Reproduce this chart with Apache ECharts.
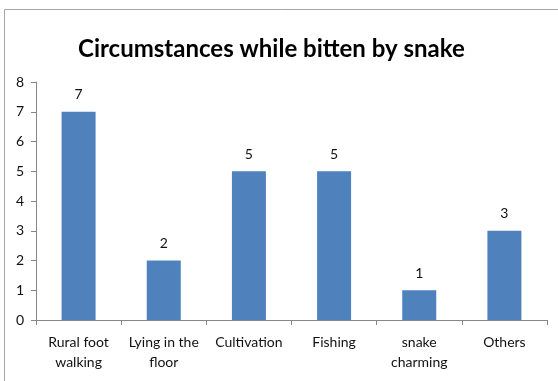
<!DOCTYPE html>
<html>
<head>
<meta charset="utf-8">
<script src="https://cdn.jsdelivr.net/npm/echarts@6/dist/echarts.min.js"></script>
<style>
  html, body { margin: 0; padding: 0; background: #fff; }
  #chart { width: 558px; height: 381px; }
</style>
</head>
<body>
<div id="chart"></div>
<script>
// data
const categories = ['Rural foot\nwalking', 'Lying in the\nfloor', 'Cultivation', 'Fishing', 'snake\ncharming', 'Others']
const counts = [7, 2, 5, 5, 1, 3]
const yTicks = { min: 0, max: 8, interval: 1 }

const myChart = echarts.init(document.getElementById('chart'))

const option = {
  animation: false,
  title: {
    text: 'Circumstances while bitten by snake',
    left: 73,
    top: 32,
    textStyle: {
      fontFamily: 'Lato',
      fontWeight: 'bold',
      fontSize: 24,
      color: '#000'
    }
  },
  // outer frame of the chart area
  graphic: [{
    type: 'rect',
    shape: { x: 4.5, y: 9.5, width: 620, height: 420 },
    style: { fill: 'none', stroke: '#a6a6a6', lineWidth: 1 },
    silent: true
  }],
  grid: {
    left: 36,
    right: 11,
    top: 82,
    bottom: 61
  },
  xAxis: {
    type: 'category',
    data: categories,
    axisLine: { lineStyle: { color: '#868686' } },
    axisTick: { show: true, length: 5, alignWithLabel: false, lineStyle: { color: '#868686' } },
    axisLabel: {
      interval: 0,
      margin: 12,
      fontFamily: 'Lato',
      fontSize: 14,
      lineHeight: 20,
      color: '#111'
    }
  },
  yAxis: {
    type: 'value',
    min: yTicks.min,
    max: yTicks.max,
    interval: yTicks.interval,
    axisLine: { show: true, lineStyle: { color: '#868686' } },
    axisTick: { show: true, length: 5, lineStyle: { color: '#868686' } },
    splitLine: { show: false },
    axisLabel: {
      margin: 12,
      fontFamily: 'Lato',
      fontSize: 14,
      color: '#111'
    }
  },
  series: [{
    type: 'bar',
    data: counts,
    barWidth: 34,
    itemStyle: { color: '#4f81bd' },
    label: {
      show: true,
      position: 'top',
      distance: 10,
      fontFamily: 'Lato',
      fontSize: 14,
      color: '#111'
    }
  }]
}

myChart.setOption(option, true)
</script>
</body>
</html>
